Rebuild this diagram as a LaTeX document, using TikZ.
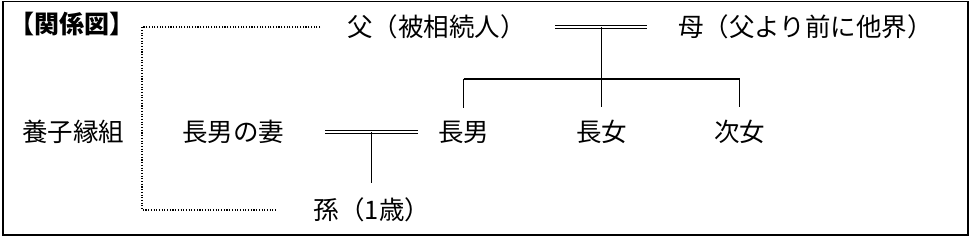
\documentclass[tikz,border=0pt]{standalone}
\usepackage{fontspec}
\setmainfont{Noto Sans CJK JP}
\usepackage{tikz}
\usetikzlibrary{positioning,calc}

\begin{document}
\begin{tikzpicture}[x=1pt,y=-1pt,
  font=\fontsize{25.5}{30}\selectfont,
  person/.style={inner sep=0pt,anchor=center},
  line/.style={draw=black,line width=1.1pt},
  marriage/.style={draw=black,double,double distance=1.5pt,line width=0.9pt},
  adopt/.style={draw=black,line width=1.1pt,dash pattern=on 1.1pt off 1.6pt}
]
\useasboundingbox (0,0) rectangle (972,237);
\draw[line width=1.6pt] (3,1.5) rectangle (968,235);

\node[person,font=\fontsize{25}{29}\selectfont\bfseries] (title) at (72,24) {【関係図】};
\node[person] (father) at (436.5,27) {父（被相続人）};
\node[person] (mother) at (805.5,27) {母（父より前に他界）};
\node[person] (adoption) at (73,132) {養子縁組};
\node[person] (wife) at (233,132) {長男の妻};
\node[person] (son) at (463.5,132) {長男};
\node[person] (daughter1) at (601.5,132) {長女};
\node[person] (daughter2) at (739.5,132) {次女};
\node[person] (grandchild) at (372,210) {孫（1歳）};

\coordinate (bar) at (601,79);
\coordinate (adoptx) at (142,0);

% parents
\draw[marriage] ([xshift=29.5pt]father.east) -- coordinate[midway] (parents) ([xshift=-31pt]mother.west);
\draw[line] (parents) -- (parents |- bar);
\draw[line] (son.north |- bar) -- (daughter2.north |- bar);
\foreach \child in {son,daughter1,daughter2}
  \draw[line,shorten >=13pt] (\child.north |- bar) -- (\child.north);

% son and wife
\draw[marriage] ([xshift=41pt]wife.east) -- coordinate[midway] (couple) ([xshift=-20pt]son.west);
\draw[line,shorten >=15pt] (couple) -- (couple |- grandchild.north);

% adoption
\draw[adopt] ([xshift=-27pt]father.west) -| (adoptx |- grandchild.west) -- ([xshift=-36pt]grandchild.west);
\end{tikzpicture}
\end{document}
